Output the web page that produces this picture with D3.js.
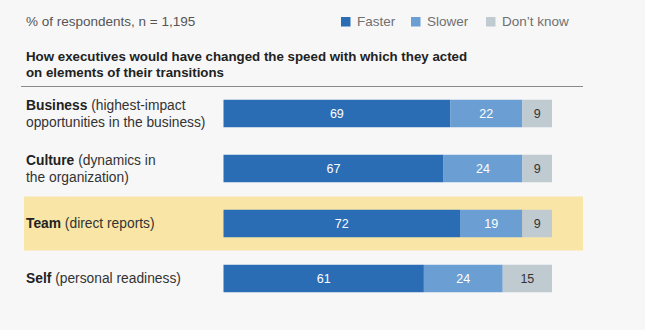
<!DOCTYPE html>
<html><head><meta charset="utf-8">
<script src="https://cdn.jsdelivr.net/npm/d3@7"></script>
<style>
html,body{margin:0;padding:0;background:#f7f7f7;}
svg{display:block;font-family:"Liberation Sans",Arial,Helvetica,sans-serif;}
</style></head>
<body>
<svg id="c" width="645" height="330"></svg>
<script>
const categories = ["Business","Culture","Team","Self"];
const descLines = [
  ["(highest-impact", "opportunities in the business)"],
  ["(dynamics in", "the organization)"],
  ["(direct reports)"],
  ["(personal readiness)"]
];
const seriesNames = ["Faster","Slower","Don\u2019t know"];
const faster = [69,67,72,61];
const slower = [22,24,19,24];
const dontKnow = [9,9,9,15];
const highlighted = "Team";

const colors = ["#2b6db4","#6b9fd3","#c0cad1"];
const labelColors = ["#ffffff","#ffffff","#333333"];

const svg = d3.select("#c");
const W = 645, H = 330;
svg.append("rect").attr("width",W).attr("height",H).attr("fill","#f7f7f7");

const x = d3.scaleLinear().domain([0,100]).range([223.5,552]);
const y = d3.scaleBand().domain(categories).range([86,306]).paddingInner(0.5).paddingOuter(0.25);

// highlight band
const hb = y(highlighted) + y.bandwidth()/2;
svg.append("rect").attr("x",24).attr("y",hb-27).attr("width",559).attr("height",54).attr("fill","#f9e6a7");

// header
svg.append("text").attr("x",26).attr("y",25.5).attr("font-size",13.5).attr("fill","#555")
  .text("% of respondents, n = 1,195");

// legend
const legX = [341,411,486];
seriesNames.forEach((s,i)=>{
  svg.append("rect").attr("x",legX[i]).attr("y",17).attr("width",9.5).attr("height",9.5).attr("fill",colors[i]);
  svg.append("text").attr("x",legX[i]+16).attr("y",25.8).attr("font-size",13.5).attr("fill","#707070").text(s);
});

// title
const title = ["How executives would have changed the speed with which they acted","on elements of their transitions"];
title.forEach((t,i)=>{
  svg.append("text").attr("x",26).attr("y",61+i*15.5).attr("font-size",13.3).attr("font-weight","bold").attr("fill","#222").text(t);
});
svg.append("line").attr("x1",21).attr("x2",583).attr("y1",86.5).attr("y2",86.5).attr("stroke","#8a8a8a").attr("stroke-width",1);

// stacked data
const rows = categories.map((c,i)=>({cat:c, "Faster":faster[i], "Slower":slower[i], "Don\u2019t know":dontKnow[i]}));
const stack = d3.stack().keys(seriesNames)(rows);

stack.forEach((layer,li)=>{
  const g = svg.append("g");
  g.selectAll("rect").data(layer).enter().append("rect")
    .attr("x",d=>x(d[0])).attr("y",d=>y(d.data.cat))
    .attr("width",d=>x(d[1])-x(d[0])).attr("height",y.bandwidth())
    .attr("fill",colors[li]);
  g.selectAll("text").data(layer).enter().append("text")
    .attr("x",d=>(x(d[0])+x(d[1]))/2).attr("y",d=>y(d.data.cat)+y.bandwidth()/2+4.5)
    .attr("text-anchor","middle").attr("font-size",12.5).attr("fill",labelColors[li])
    .text(d=>d[1]-d[0]);
});

// row labels
categories.forEach((c,i)=>{
  const cy = y(c)+y.bandwidth()/2;
  const lines = descLines[i];
  const n = lines.length;
  lines.forEach((ln,j)=>{
    const by = cy + 4.5 + (j-(n-1)/2)*17;
    const t = svg.append("text").attr("x",26).attr("y",by).attr("font-size",13.8).attr("fill","#333");
    if(j===0){
      t.append("tspan").attr("font-weight","bold").attr("fill","#222").text(c+" ");
    }
    t.append("tspan").text(ln);
  });
});
</script>
</body></html>
